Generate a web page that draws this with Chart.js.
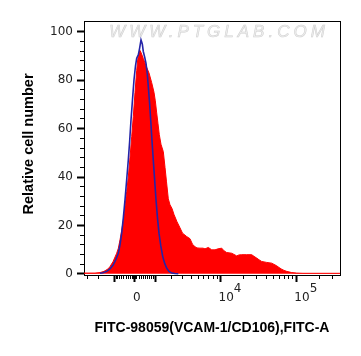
<!DOCTYPE html>
<html><head><meta charset="utf-8">
<script src="https://cdn.jsdelivr.net/npm/chart.js@4/dist/chart.umd.min.js"></script>
<style>html,body{margin:0;padding:0;background:#fff;}canvas{display:block;}</style>
</head><body>
<canvas id="c" width="361" height="356"></canvas>
<script>
// Display channel (0..256 across the plot) and relative cell number
const sampleChannel = [0,11,16,20,24,26,29,32.7,34.3,36,37.7,39.3,41,42.7,44.3,46,47.7,49.3,51,52.7,53.7,55,56,57,59.3,62,65,67.7,70,71.3,72.7,74,75.3,77,79.3,81,82.5,84.3,86,88,90,93,96,98.5,102.7,106,108.5,111,113,116,119,121,124.3,127.7,131,134,137.7,140,142.7,147.7,150,152.7,155,157.7,162.7,167.7,170,172.7,175,177.7,182.7,187.7,192.7,195,197.7,200,202.7,207.7,212.7,219,256];
const sampleCount = [0.3,0.3,0.5,1,2,3,5,8.5,10.5,14,18,22,27.8,34,40,48,56.7,65,75,84,88.5,91.5,92.3,91.5,89,86,83,79,75,71.5,66.5,62,57.5,53.5,50.5,44,38,31,28.5,27,24.5,21.5,19,16.8,15.4,14.5,12.2,11.2,10.7,10.6,10.6,10.3,10.9,9.9,9.9,10.3,10.6,9.5,8.8,8.5,8.0,7.4,7.8,7.9,7.9,7.9,7.2,6.5,5.8,5.1,4.7,4.4,3.3,2.6,1.9,1.4,1.0,0.5,0.3,0.2,0.2];
const isotypeChannel = [16,19,22.7,26,29.3,32,34.3,36,37.7,39.3,41,42.7,44.3,45.7,47,48.5,50,51.5,52.7,54.3,55.5,57,58.3,59.3,60.7,62,63.2,64.3,65.5,66.7,68,69.3,70.7,72,73.5,75,76.8,78.7,80.7,82.7,85,87.7,91,94.3];
const isotypeCount = [0.2,0.4,1.0,2.0,3.7,6,8.5,12,16.8,23,30.6,39,47,55,63.6,72,80.2,86,89.1,90.5,93,96.7,95,91.9,89.5,87,83,77.4,71,63.6,55,47,38.5,30.6,23,16.8,11.5,7.2,4.3,2.3,1.0,0.3,0.1,0];

const yMajorTicks = [0,20,40,60,80,100];
const yMinorTicks = [4,8,12,16,24,28,32,36,44,48,52,56,64,68,72,76,84,88,92,96];
const xMajorTickValues = [-1000,0,1000,10000,100000];
const xTickBase = ['','0','','10','10'];
const xTickExp  = ['','','','4','5'];
const xDecades = [10,100,1000,10000,100000];
const xTitle = 'FITC-98059(VCAM-1/CD106),FITC-A';
const yTitle = 'Relative cell number';
const watermarkText = 'WWW.PTGLAB.COM';

// biexponential-like display transform (fluorescence value -> display channel)
function biex(v){ return 50.8 + 33*Math.asinh(v/1499); }
const xMinorTickValues = [];
xDecades.forEach(d=>{ for(let m=1;m<=9;m++){ const v=m*d; if(!xMajorTickValues.includes(v)){ xMinorTickValues.push(v,-v);} } });

function xLabel(i){
  const b = xTickBase[i], e = xTickExp[i];
  if(!b) return '';
  if(e) return ['         '+e, '   '+b];
  return ['', ' '+b];
}

const tickFont = {family:'"DejaVu Sans", sans-serif', size:12};
const xTitleFont = {family:'"Liberation Sans", Arial, sans-serif', size:14, weight:'bold'};
const yTitleFont = {family:'"Liberation Sans", Arial, sans-serif', size:14.5, weight:'bold'};

const watermark = {
  id:'watermark',
  beforeDatasetsDraw(chart){
    const {ctx, chartArea:a} = chart;
    ctx.save();
    ctx.font = 'italic 17px "Liberation Sans", Arial, sans-serif';
    ctx.letterSpacing = '4px';
    ctx.textAlign = 'center';
    ctx.textBaseline = 'alphabetic';
    ctx.fillStyle = '#f0f0f0';
    ctx.strokeStyle = '#d2d2d2';
    ctx.lineWidth = 0.6;
    const x = (a.left+a.right)/2 + 7, y = a.top + 16;
    ctx.fillText(watermarkText, x, y);
    ctx.strokeText(watermarkText, x, y);
    ctx.restore();
  }
};

new Chart(document.getElementById('c'), {
  type:'line',
  data:{
    datasets:[
      {label:'Isotype', data:isotypeChannel.map((x,i)=>({x, y:isotypeCount[i]})),
       borderColor:'#2424a8', borderWidth:1.6, fill:false, pointRadius:0, tension:0, order:1},
      {label:'FITC-98059', data:sampleChannel.map((x,i)=>({x, y:sampleCount[i]})),
       borderColor:'#ff0000', backgroundColor:'#ff0000', borderWidth:1, fill:'origin', pointRadius:0, tension:0, order:2}
    ]
  },
  options:{
    responsive:false, devicePixelRatio:1, animation:false,
    layout:{padding:{top:21,right:21,left:0,bottom:0}},
    plugins:{legend:{display:false}, tooltip:{enabled:false}},
    scales:{
      x:{type:'linear', axis:'x', position:'bottom', weight:1, min:0, max:256,
         afterFit(s){ s.height = 81; },
         afterBuildTicks(s){ s.ticks = xMajorTickValues.map(v=>({value:biex(v)})); },
         grid:{drawOnChartArea:false, drawTicks:true, tickLength:7, tickWidth:2, tickColor:'#000'},
         border:{display:true, color:'#000', width:1},
         ticks:{autoSkip:false, maxRotation:0, minRotation:0, padding:3, color:'#222',
                font:{...tickFont, lineHeight:0.7}, callback:(v,i)=>xLabel(i)},
         title:{display:true, text:xTitle, color:'#000', font:xTitleFont, padding:{top:0,bottom:19.6}}
      },
      xMinor:{type:'linear', axis:'x', position:'bottom', weight:0, min:0, max:256,
         afterFit(s){ s.height = 0; },
         afterBuildTicks(s){ s.ticks = xMinorTickValues.map(v=>({value:biex(v)})).filter(t=>t.value>=0 && t.value<=256).sort((a,b)=>a.value-b.value); },
         grid:{drawOnChartArea:false, drawTicks:true, tickLength:4, tickWidth:1, tickColor:'#000'},
         border:{display:false}, ticks:{display:false}
      },
      xTop:{type:'linear', axis:'x', position:'top', min:0, max:256,
         afterFit(s){ s.height = 0; },
         grid:{display:false, drawTicks:false}, ticks:{display:false},
         border:{display:true, color:'#000', width:1}
      },
      y:{type:'linear', axis:'y', position:'left', weight:1, min:-0.5, max:104.5,
         afterFit(s){ s.width = 84; },
         afterBuildTicks(s){ s.ticks = yMajorTicks.map(v=>({value:v})); },
         grid:{drawOnChartArea:false, drawTicks:true, tickLength:7, tickWidth:2, tickColor:'#000'},
         border:{display:true, color:'#000', width:1},
         ticks:{padding:4, color:'#222', font:tickFont},
         title:{display:true, text:'  '+yTitle, color:'#000', font:yTitleFont, padding:{top:20.3,bottom:0}}
      },
      yMinor:{type:'linear', axis:'y', position:'left', weight:0, min:-0.5, max:104.5,
         afterFit(s){ s.width = 0; },
         afterBuildTicks(s){ s.ticks = yMinorTicks.map(v=>({value:v})); },
         grid:{drawOnChartArea:false, drawTicks:true, tickLength:4, tickWidth:1, tickColor:'#000'},
         border:{display:false}, ticks:{display:false}
      },
      yRight:{type:'linear', axis:'y', position:'right', min:-0.5, max:104.5,
         afterFit(s){ s.width = 0; },
         grid:{display:false, drawTicks:false}, ticks:{display:false},
         border:{display:true, color:'#000', width:1}
      }
    }
  },
  plugins:[watermark]
});
</script>
</body></html>
